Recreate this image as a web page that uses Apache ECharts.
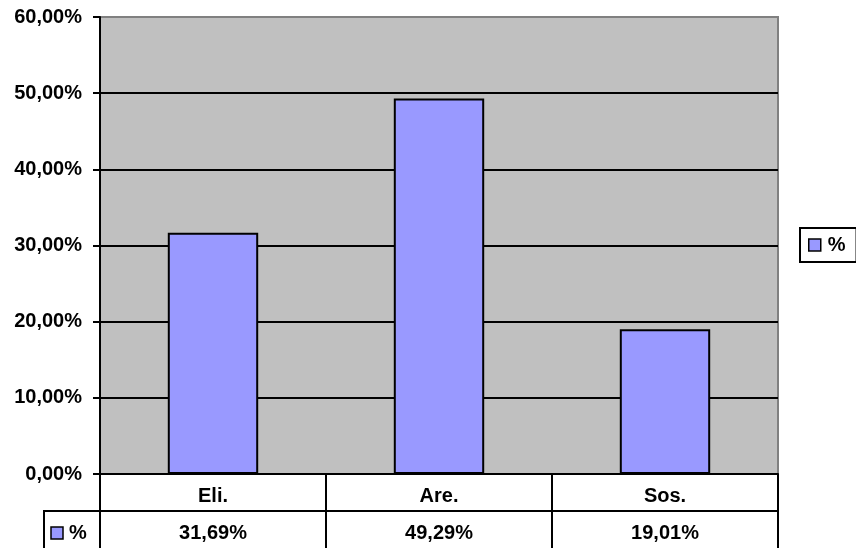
<!DOCTYPE html>
<html>
<head>
<meta charset="utf-8">
<script src="https://cdn.jsdelivr.net/npm/echarts@6/dist/echarts.min.js"></script>
<style>html,body{margin:0;padding:0;background:#fff}#c{width:856px;height:548px}</style>
</head>
<body>
<div id="c"></div>
<script>
const categories = ['Eli.', 'Are.', 'Sos.'];
const values = [31.69, 49.29, 19.01];
const seriesName = '%';
const yTicks = [0, 10, 20, 30, 40, 50, 60];

const fmt = v => v.toFixed(2).replace('.', ',') + '%';
const valueLabels = values.map(fmt);

const FONT = '"Liberation Sans", Arial, sans-serif';
const FS = 20;
const GL = 100, GT = 17, GR = 778, GB = 474;
const splitColors = yTicks.map((t, i) => i === yTicks.length - 1 ? '#808080' : '#000');
const chart = echarts.init(document.getElementById('c'), null, {renderer: 'canvas'});
chart.setOption({
  animation: false,
  backgroundColor: '#ffffff',
  textStyle: {fontFamily: FONT},
  grid: {
    left: GL, top: GT, right: 856 - GR, bottom: 548 - GB,
    show: true, backgroundColor: '#C0C0C0', borderColor: '#808080', borderWidth: 2
  },
  legend: {
    data: [seriesName],
    left: 800, top: 228,
    orient: 'vertical',
    padding: [7, 11, 7, 8],
    borderColor: '#000', borderWidth: 2,
    icon: 'rect', itemWidth: 12, itemHeight: 12, itemGap: 5,
    itemStyle: {borderColor: '#000', borderWidth: 1.5},
    textStyle: {fontSize: FS, fontWeight: 'bold', color: '#000', fontFamily: FONT, padding: [0, 0, 0, 2]}
  },
  xAxis: [{
    type: 'category',
    data: categories,
    position: 'bottom',
    axisLine: {show: true, lineStyle: {color: '#000', width: 2}},
    axisTick: {show: true, length: 74, interval: 0, lineStyle: {color: '#000', width: 2}},
    axisLabel: {margin: 12, fontSize: FS, fontWeight: 'bold', color: '#000', fontFamily: FONT, interval: 0},
    splitLine: {show: false}
  }, {
    type: 'category',
    data: valueLabels,
    position: 'bottom',
    offset: 37,
    axisLine: {show: false},
    axisTick: {show: false},
    axisLabel: {margin: 12, fontSize: FS, fontWeight: 'bold', color: '#000', fontFamily: FONT, interval: 0},
    splitLine: {show: false}
  }],
  yAxis: {
    type: 'value',
    min: yTicks[0], max: yTicks[yTicks.length - 1], interval: 10,
    axisLine: {show: true, lineStyle: {color: '#000', width: 2}},
    axisTick: {show: true, length: 7, lineStyle: {color: '#000', width: 2}},
    axisLabel: {margin: 18, fontSize: FS, fontWeight: 'bold', color: '#000', fontFamily: FONT, formatter: fmt, padding: [4, 0, 0, 0]},
    splitLine: {show: true, lineStyle: {color: splitColors, width: 2}}
  },
  series: [{
    name: seriesName,
    type: 'bar',
    xAxisIndex: 0,
    data: values,
    barWidth: '40%',
    itemStyle: {color: '#9999FF', borderColor: '#000', borderWidth: 2}
  }],
  graphic: [
    {type: 'line', shape: {x1: 44, y1: 511, x2: GR + 1, y2: 511}, style: {stroke: '#000', lineWidth: 2}, z: 10},
    {type: 'line', shape: {x1: 44, y1: 510, x2: 44, y2: 548}, style: {stroke: '#000', lineWidth: 2}, z: 10},
    {type: 'line', shape: {x1: GL, y1: GB, x2: GL, y2: 548}, style: {stroke: '#000', lineWidth: 2}, z: 10},
    {type: 'rect', shape: {x: 51, y: 527, width: 12, height: 12}, style: {fill: '#9999FF', stroke: '#000', lineWidth: 1.5}, z: 10},
    {type: 'text', x: 69, y: 523, style: {text: seriesName, font: 'bold ' + FS + 'px ' + FONT, fill: '#000'}, z: 10}
  ]
});
</script>
</body>
</html>
